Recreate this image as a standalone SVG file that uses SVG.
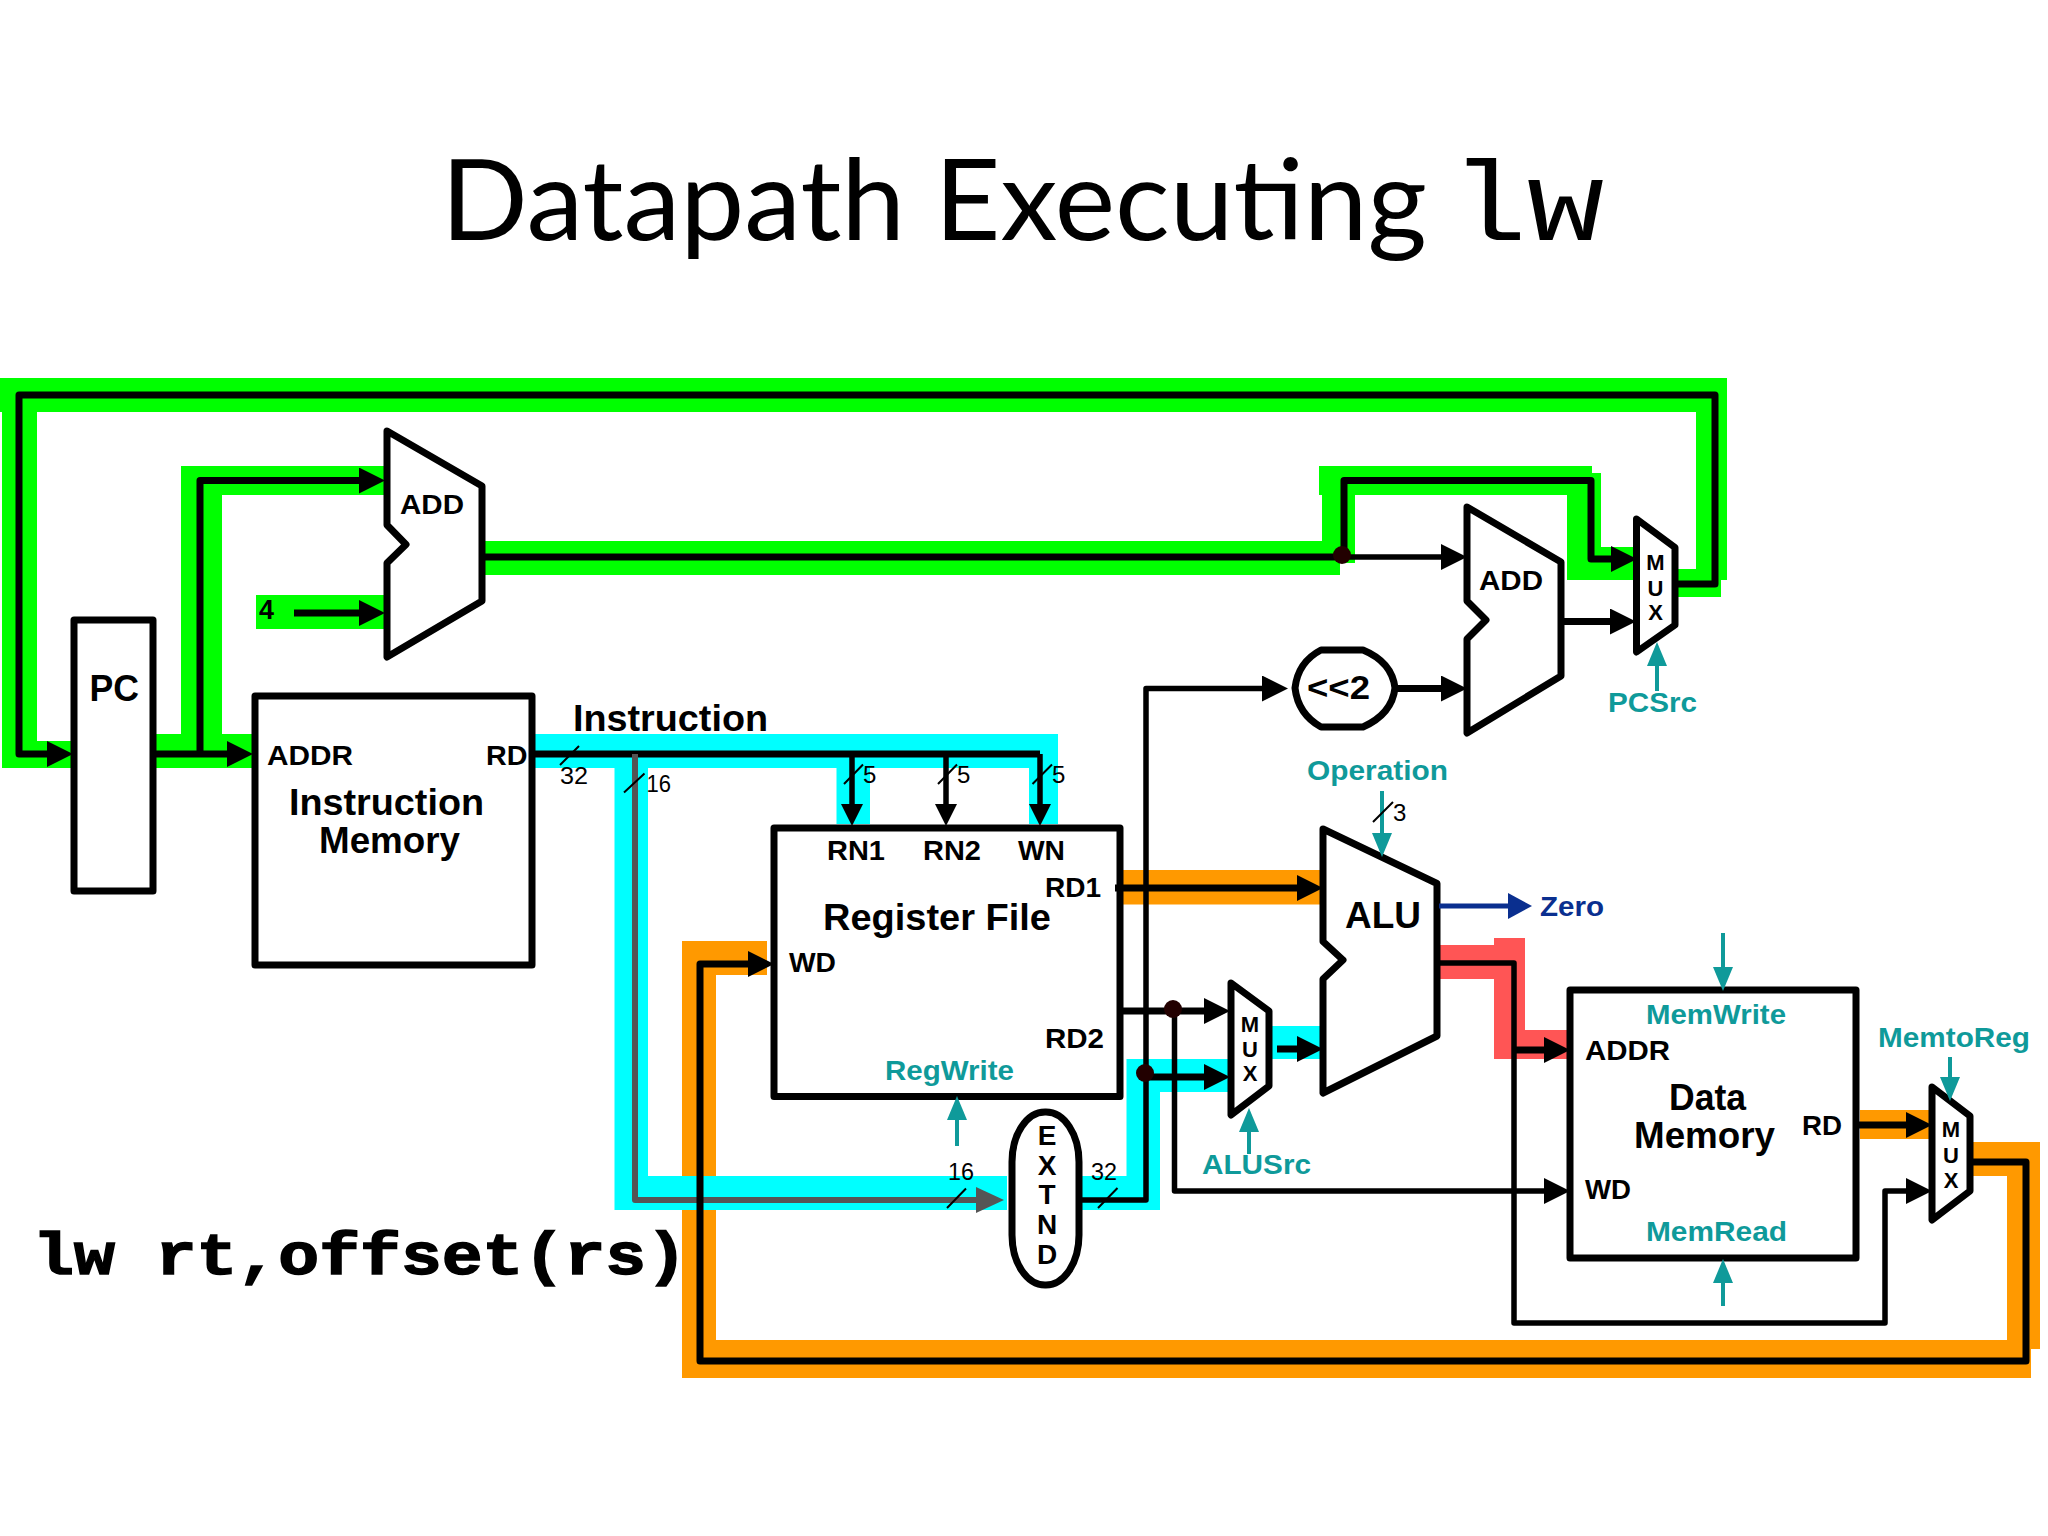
<svg xmlns="http://www.w3.org/2000/svg" width="2048" height="1536" viewBox="0 0 2048 1536">
<style>
text{font-family:"Liberation Sans",Arial,sans-serif;font-weight:bold;fill:#000;font-size:28px}
.big{font-size:37px}
.teal{fill:#0f9a9a}
.navy{fill:#0a2f8f}
.num{font-weight:normal;font-size:24px}
.mux{font-size:22px;text-anchor:middle}
.ext{font-size:28px;text-anchor:middle}
.shape{fill:#fff;stroke:#000;stroke-width:7;stroke-linejoin:round}
.w{fill:none;stroke:#000;stroke-width:7;stroke-linejoin:round}
.n{fill:none;stroke:#000;stroke-width:5.5;stroke-linejoin:round}
.g{fill:none;stroke:#555;stroke-width:6;stroke-linejoin:round}
.c{fill:none;stroke:#0f9a9a;stroke-width:4}
.z{fill:none;stroke:#0a2f8f;stroke-width:5}
.tick{fill:none;stroke:#000;stroke-width:2}
.hg{fill:#0f0}.hc{fill:#0ff}.ho{fill:#f90}.hr{fill:#f55}
</style>
<defs>
<marker id="a" markerUnits="userSpaceOnUse" markerWidth="26" markerHeight="26" refX="16" refY="13" orient="auto"><polygon points="0,0 26,13 0,26" fill="#000"/></marker>
<marker id="s" markerUnits="userSpaceOnUse" markerWidth="22" markerHeight="22" refX="14" refY="11" orient="auto"><polygon points="0,0 22,11 0,22" fill="#000"/></marker>
<marker id="ag" markerUnits="userSpaceOnUse" markerWidth="28" markerHeight="26" refX="18" refY="13" orient="auto"><polygon points="0,0 28,13 0,26" fill="#555"/></marker>
<marker id="at" markerUnits="userSpaceOnUse" markerWidth="24" markerHeight="20" refX="14" refY="10" orient="auto"><polygon points="0,0 24,10 0,20" fill="#0f9a9a"/></marker>
<marker id="az" markerUnits="userSpaceOnUse" markerWidth="24" markerHeight="26" refX="14" refY="13" orient="auto"><polygon points="0,0 24,13 0,26" fill="#0a2f8f"/></marker>
</defs>
<rect width="2048" height="1536" fill="#fff"/>
<g id="title">
<text x="441" y="240" style="font-family:Lato,'Liberation Sans',sans-serif;font-weight:normal;font-size:112px" textLength="986" lengthAdjust="spacingAndGlyphs">Datapath Executing</text>
<text x="1450" y="240" style="font-family:'Liberation Mono',monospace;font-weight:normal;font-size:114px" textLength="154" lengthAdjust="spacingAndGlyphs">lw</text>
</g>
<g id="highlights">
<path class="ho" d="M682 941H767V975H716V1340H2007V1176H1963V1142H2040V1349H2031V1378H682Z"/>
<rect class="ho" x="1121" y="870" width="202" height="34.5"/>
<rect class="ho" x="1860" y="1110" width="70" height="29"/>
<path class="hr" d="M1440 945H1494V938H1525V1030H1569V1059H1494V979H1440Z"/>
<path class="hg" d="M0 378H1727V580H1721V597H1670V569H1696V412H37V741H72V768H2V412H0Z"/>
<path class="hg" d="M155 734H181V466H385V495H222V734H253V768H155Z"/>
<rect class="hg" x="256" y="595" width="129" height="34"/>
<path class="hg" d="M485 541H1322V495H1319V466H1592V473H1601V547H1634V580H1567V495H1355V563H1340V575H485Z"/>
<path class="hc" d="M535 734H1058V824H1029V768H870V824H836.5V768H648V1176H1007V1210H614.5V768H535Z"/>
<path class="hc" d="M1076 1176H1126.5V1059H1230V1092H1160V1210H1076Z"/>
<rect class="hc" x="1264" y="1026" width="57" height="33"/>
</g>
<g id="pc"><rect class="shape" x="74" y="620" width="79" height="271"/><text x="89.5" y="701" class="big" textLength="49.5" lengthAdjust="spacingAndGlyphs">PC</text></g>
<g id="add1"><polygon class="shape" points="387,431 482,486 482,601 387,657 387,563 406,544.5 387,525"/><text x="400" y="514" textLength="64" lengthAdjust="spacingAndGlyphs">ADD</text></g>
<g id="four"><text x="259" y="619" textLength="15" lengthAdjust="spacingAndGlyphs">4</text></g>
<g id="instruction-memory"><rect class="shape" x="255" y="696" width="277" height="269"/>
<text x="267" y="765" textLength="86" lengthAdjust="spacingAndGlyphs">ADDR</text>
<text x="486" y="765" textLength="41.5" lengthAdjust="spacingAndGlyphs">RD</text>
<text x="289" y="815" class="big" textLength="195" lengthAdjust="spacingAndGlyphs">Instruction</text>
<text x="319" y="853" class="big" textLength="141" lengthAdjust="spacingAndGlyphs">Memory</text></g>
<g id="instruction-label"><text x="573" y="731" class="big" textLength="195" lengthAdjust="spacingAndGlyphs">Instruction</text></g>
<g id="register-file"><rect class="shape" x="774" y="828" width="346" height="268.6"/>
<text x="827" y="859.5" textLength="58" lengthAdjust="spacingAndGlyphs">RN1</text>
<text x="923" y="859.5" textLength="58" lengthAdjust="spacingAndGlyphs">RN2</text>
<text x="1018" y="859.5" textLength="47" lengthAdjust="spacingAndGlyphs">WN</text>
<text x="1045" y="897" textLength="56" lengthAdjust="spacingAndGlyphs">RD1</text>
<text x="823" y="929.5" class="big" textLength="228" lengthAdjust="spacingAndGlyphs">Register File</text>
<text x="789" y="972" textLength="47" lengthAdjust="spacingAndGlyphs">WD</text>
<text x="1045" y="1048" textLength="59" lengthAdjust="spacingAndGlyphs">RD2</text>
<text x="885" y="1080" class="teal" textLength="129" lengthAdjust="spacingAndGlyphs">RegWrite</text></g>
<g id="extend"><rect class="shape" x="1012" y="1112" width="67" height="173" rx="33" ry="50"/>
<text x="1047" y="1145" class="ext">E</text><text x="1047" y="1175" class="ext">X</text><text x="1047" y="1204" class="ext">T</text><text x="1047" y="1234" class="ext">N</text><text x="1047" y="1264" class="ext">D</text></g>
<g id="shift"><path class="shape" d="M1321 650H1363Q1392 662 1395 688Q1392 714 1363 727H1321Q1298 714 1295 688Q1298 662 1321 650Z"/><text x="1307" y="699" style="font-size:34px" textLength="63" lengthAdjust="spacingAndGlyphs">&lt;&lt;2</text></g>
<g id="add2"><polygon class="shape" points="1467,507 1561,562 1561,676 1467,733 1467,639 1486,620 1467,601"/><text x="1479" y="590" textLength="64" lengthAdjust="spacingAndGlyphs">ADD</text></g>
<g id="mux-pc"><polygon class="shape" points="1636.5,519 1675,547.5 1675,625 1636.5,652"/><text x="1655.5" y="570" class="mux">M</text><text x="1655.5" y="595.5" class="mux">U</text><text x="1655.5" y="620" class="mux">X</text></g>
<g id="pcsrc"><text x="1608" y="712" class="teal" textLength="89" lengthAdjust="spacingAndGlyphs">PCSrc</text></g>
<g id="alu"><polygon class="shape" points="1323,829 1437,883.5 1437,1036 1323,1093 1323,979 1343,960 1323,941.5"/><text x="1345" y="928" class="big" textLength="76" lengthAdjust="spacingAndGlyphs">ALU</text></g>
<g id="operation"><text x="1307" y="780" class="teal" textLength="141" lengthAdjust="spacingAndGlyphs">Operation</text></g>
<g id="zero"><text x="1540" y="916" class="navy" textLength="64" lengthAdjust="spacingAndGlyphs">Zero</text></g>
<g id="mux-alu"><polygon class="shape" points="1231,983 1269,1011 1269,1086 1231,1115"/><text x="1250" y="1032" class="mux">M</text><text x="1250" y="1056.5" class="mux">U</text><text x="1250" y="1081" class="mux">X</text></g>
<g id="alusrc"><text x="1202" y="1173.5" class="teal" textLength="109" lengthAdjust="spacingAndGlyphs">ALUSrc</text></g>
<g id="data-memory"><rect class="shape" x="1570" y="990" width="286" height="268"/>
<text x="1646" y="1024" class="teal" textLength="140" lengthAdjust="spacingAndGlyphs">MemWrite</text>
<text x="1585" y="1060" textLength="85" lengthAdjust="spacingAndGlyphs">ADDR</text>
<text x="1669" y="1110" class="big" textLength="77" lengthAdjust="spacingAndGlyphs">Data</text>
<text x="1634" y="1148" class="big" textLength="141" lengthAdjust="spacingAndGlyphs">Memory</text>
<text x="1802" y="1135" textLength="40" lengthAdjust="spacingAndGlyphs">RD</text>
<text x="1585" y="1199" textLength="46" lengthAdjust="spacingAndGlyphs">WD</text>
<text x="1646" y="1241" class="teal" textLength="141" lengthAdjust="spacingAndGlyphs">MemRead</text></g>
<g id="memtoreg"><text x="1878" y="1047" class="teal" textLength="152" lengthAdjust="spacingAndGlyphs">MemtoReg</text></g>
<g id="mux-mem"><polygon class="shape" points="1932,1087 1970,1116 1970,1191 1932,1220"/><text x="1951" y="1137" class="mux">M</text><text x="1951" y="1163" class="mux">U</text><text x="1951" y="1188" class="mux">X</text></g>
<g id="code"><text x="33" y="1274" style="font-family:'Liberation Mono',monospace;font-size:60px;stroke:#000;stroke-width:1.5" textLength="654" lengthAdjust="spacingAndGlyphs">lw rt,offset(rs)</text></g>
<g id="connectors">
<path class="w" d="M1677 584H1715V395H19V754H63" marker-end="url(#a)"/>
<path class="w" d="M151 754H243" marker-end="url(#a)"/>
<path class="w" d="M200 754V480.5H375" marker-end="url(#a)"/>
<path class="w" d="M294 613H375" marker-end="url(#a)"/>
<path class="w" d="M482 557H1344"/>
<path class="n" d="M1344 557H1457" marker-end="url(#a)"/>
<path class="w" d="M1344 557V480.5H1591V559H1627" marker-end="url(#a)"/>
<path class="w" d="M1561 621.5H1626" marker-end="url(#a)"/>
<path class="w" d="M532 754H1040"/>
<path class="n" d="M852 754V818" marker-end="url(#s)"/>
<path class="n" d="M946 754V818" marker-end="url(#s)"/>
<path class="n" d="M1040 754V818" marker-end="url(#s)"/>
<path class="g" d="M635 754V1200H994" marker-end="url(#ag)"/>
<path class="w" d="M1971 1162H2026V1361H700V964H764" marker-end="url(#a)"/>
<path class="n" d="M1080 1200H1146V688.5H1278" marker-end="url(#a)"/>
<path class="w" d="M1395 688.5H1457" marker-end="url(#a)"/>
<path class="w" d="M1115 888H1313" marker-end="url(#a)"/>
<path class="w" d="M1117 1011H1220" marker-end="url(#a)"/>
<path class="n" d="M1174.5 1011V1191H1560" marker-end="url(#a)"/>
<path class="w" d="M1146 1077H1220" marker-end="url(#a)"/>
<path class="w" d="M1277 1049H1313" marker-end="url(#a)"/>
<path class="n" d="M1437 963H1514V1323H1885V1191H1922" marker-end="url(#a)"/>
<path class="w" d="M1514 1050H1560" marker-end="url(#a)"/>
<path class="w" d="M1855 1125H1922" marker-end="url(#a)"/>
<circle cx="1342" cy="555" r="9" fill="#200"/>
<circle cx="1173" cy="1009" r="9" fill="#200"/>
<circle cx="1145" cy="1073" r="9" fill="#200"/>
<path class="c" d="M1657 691V652" marker-end="url(#at)"/>
<path class="c" d="M1382 791V847" marker-end="url(#at)"/>
<path class="z" d="M1439 906H1522" marker-end="url(#az)"/>
<path class="c" d="M957 1146V1106" marker-end="url(#at)"/>
<path class="c" d="M1249 1154V1118" marker-end="url(#at)"/>
<path class="c" d="M1723 933V981" marker-end="url(#at)"/>
<path class="c" d="M1723 1306V1269" marker-end="url(#at)"/>
<path class="c" d="M1950 1057V1091" marker-end="url(#at)"/>
<path class="tick" d="M560 765L579 746M624 792.5L644.5 773.5M844 784L863 764.5M938 784L957 764.5M1032.5 784L1052 764.5M947 1208L966 1188.5M1098 1208L1117.5 1188M1373 822L1393 802"/>
<g id="widths">
<text x="560" y="784" class="num" textLength="28" lengthAdjust="spacingAndGlyphs">32</text>
<text x="646.5" y="792" class="num" textLength="24.5" lengthAdjust="spacingAndGlyphs">16</text>
<text x="863" y="783" class="num">5</text>
<text x="957" y="783" class="num">5</text>
<text x="1052" y="783" class="num">5</text>
<text x="948" y="1180" class="num" textLength="26" lengthAdjust="spacingAndGlyphs">16</text>
<text x="1091" y="1180" class="num" textLength="26" lengthAdjust="spacingAndGlyphs">32</text>
<text x="1393" y="821" class="num">3</text>
</g>
</g>
</svg>
